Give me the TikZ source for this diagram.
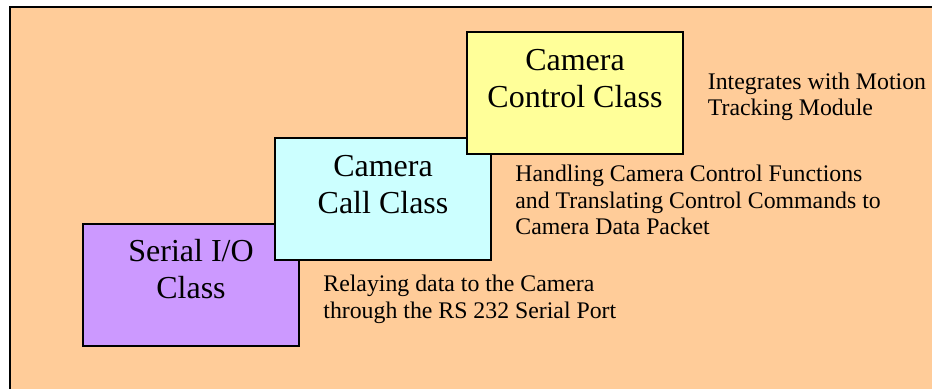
\documentclass[tikz,border=0pt]{standalone}
\usepackage{fontspec}
\setmainfont{Liberation Serif}
\usepackage{tikz}

\definecolor{bgpeach}{HTML}{FFCC99}
\definecolor{serialpurple}{HTML}{CC99FF}
\definecolor{callcyan}{HTML}{CCFFFF}
\definecolor{ctrlyellow}{HTML}{FFFF99}

\tikzset{
	classbox/.style={draw=black, line width=1pt, rectangle, minimum width=108pt, minimum height=61pt, inner sep=0pt},
	classname/.style={anchor=base, align=center, inner sep=0pt, font=\fontsize{16}{18.5}\selectfont},
	classnote/.style={anchor=base west, align=left, inner sep=0pt, font=\fontsize{11.9}{13.4}\selectfont}
}

\begin{document}
\begin{tikzpicture}[x=0.5pt, y=-0.5pt]
	\clip (0,0) rectangle (932,389);
	\fill[white] (0,0) rectangle (932,389);
	\draw[fill=bgpeach, line width=1.2pt] (10,7) rectangle (960,420);

	% the three classes, stacked as steps (base = last line)
	\node[classbox, fill=serialpurple] (serial) at (191,285) {};
	\node[classname] (serialname) at ([yshift=-38pt]serial.north) {Serial I/O\\Class};
	\node[classbox, fill=callcyan] (call) at (383,199.5) {};
	\node[classname] (callname) at ([yshift=-38pt]call.north) {Camera\\Call Class};
	\node[classbox, fill=ctrlyellow] (ctrl) at (575,93.5) {};
	\node[classname] (ctrlname) at ([yshift=-38pt]ctrl.north) {Camera\\Control Class};

	% what each class does
	\node[classnote] (serialnote) at (323,318.5) {Relaying data to the Camera\\through the RS 232 Serial Port};
	\node[classnote] (callnote) at (515,235) {Handling Camera Control Functions\\and Translating Control Commands to\\Camera Data Packet};
	\node[classnote] (ctrlnote) at (707.5,116) {Integrates with Motion\\Tracking Module};
\end{tikzpicture}
\end{document}
